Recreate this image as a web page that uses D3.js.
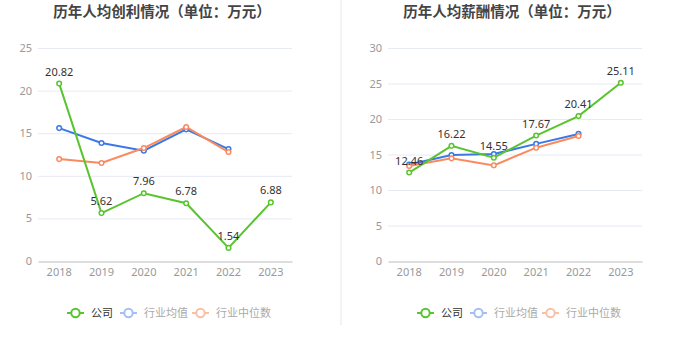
<!DOCTYPE html>
<html>
<head>
<meta charset="utf-8">
<script src="https://cdn.jsdelivr.net/npm/d3@7"></script>
<style>
  html, body { margin: 0; padding: 0; background: #fff; }
  svg { display: block; font-family: "Noto Sans CJK SC", "Noto Sans", sans-serif; }
</style>
</head>
<body>
<svg id="chart" width="680" height="349"></svg>
<script>
const years = ["2018", "2019", "2020", "2021", "2022", "2023"];
const seriesNames = ["公司", "行业均值", "行业中位数"];

// 人均创利
const profitCompany = [20.82, 5.62, 7.96, 6.78, 1.54, 6.88];
const profitMean = [15.6, 13.85, 12.94, 15.45, 13.14];
const profitMedian = [11.96, 11.5, 13.26, 15.73, 12.79];
const profitTicks = [0, 5, 10, 15, 20, 25];

// 人均薪酬
const salaryCompany = [12.46, 16.22, 14.55, 17.67, 20.41, 25.11];
const salaryMean = [13.6, 14.93, 15.07, 16.5, 17.9];
const salaryMedian = [13.38, 14.46, 13.47, 15.96, 17.6];
const salaryTicks = [0, 5, 10, 15, 20, 25, 30];

const colors = ["#5ac42e", "#3b78e7", "#fa8a5e"];
const legendColors = ["#5ac42e", "#a3bff3", "#fbbfa6"];
const legendText = ["#333", "#aaa", "#aaa"];

const svg = d3.select("#chart");

// divider between the two panels
svg.append("rect")
  .attr("x", 340).attr("y", 0)
  .attr("width", 2).attr("height", 325)
  .attr("fill", "#f3f3f3");

function drawPanel(offsetX, title, company, mean, median, ticks) {
  const left = offsetX + 38;
  const right = offsetX + 292;
  const top = 48;
  const bottom = 261;

  const g = svg.append("g");

  g.append("text")
    .attr("x", offsetX + 162)
    .attr("y", 17)
    .attr("text-anchor", "middle")
    .attr("font-size", 14.5)
    .attr("font-weight", "bold")
    .attr("fill", "#444")
    .text(title);

  const x = d3.scaleBand().domain(years).range([left, right]);
  const y = d3.scaleLinear().domain([0, d3.max(ticks)]).range([bottom, top]);

  // grid lines
  g.append("g")
    .selectAll("line")
    .data(ticks.filter(t => t > 0))
    .join("line")
    .attr("x1", left).attr("x2", right)
    .attr("y1", d => y(d) + 0.5).attr("y2", d => y(d) + 0.5)
    .attr("stroke", "#e6eaf5");

  const yAxis = g.append("g")
    .attr("transform", `translate(${left - 6},0)`)
    .call(d3.axisLeft(y).tickValues(ticks).tickSize(0).tickPadding(0));
  yAxis.select(".domain").remove();
  yAxis.selectAll("text")
    .attr("fill", "#999")
    .attr("font-size", 11)
    .attr("font-family", "'Noto Sans', sans-serif");

  const xAxis = g.append("g")
    .attr("transform", `translate(0,${bottom + 0.5})`)
    .call(d3.axisBottom(x).tickSize(0).tickPadding(7));
  xAxis.select(".domain").attr("stroke", "#bbb");
  xAxis.selectAll("text")
    .attr("fill", "#999")
    .attr("font-size", 11)
    .attr("font-family", "'Noto Sans', sans-serif");

  const cx = (d, i) => x(years[i]) + x.bandwidth() / 2;
  const line = d3.line().x(cx).y(d => y(d));

  [mean, median, company].forEach((data, k) => {
    const idx = k === 2 ? 0 : k + 1;
    g.append("path")
      .datum(data)
      .attr("d", line)
      .attr("fill", "none")
      .attr("stroke", colors[idx])
      .attr("stroke-width", 2);
    g.append("g")
      .selectAll("circle")
      .data(data)
      .join("circle")
      .attr("cx", cx)
      .attr("cy", d => y(d))
      .attr("r", 2.3)
      .attr("fill", "#fff")
      .attr("stroke", colors[idx])
      .attr("stroke-width", 1.5);
  });

  g.append("g")
    .selectAll("text")
    .data(company)
    .join("text")
    .attr("x", cx)
    .attr("y", d => y(d) - 8)
    .attr("text-anchor", "middle")
    .attr("font-size", 11)
    .attr("font-family", "'Noto Sans', sans-serif")
    .attr("fill", "#333")
    .text(d => d.toFixed(2));

  // legend
  const legendX = [offsetX + 67, offsetX + 120, offsetX + 192];
  const leg = g.append("g").selectAll("g")
    .data(seriesNames)
    .join("g")
    .attr("transform", (d, i) => `translate(${legendX[i]},313)`);
  leg.append("line")
    .attr("x1", 0).attr("x2", 17)
    .attr("stroke", (d, i) => legendColors[i])
    .attr("stroke-width", 2);
  leg.append("circle")
    .attr("cx", 8.5).attr("r", 4.2)
    .attr("fill", "#fff")
    .attr("stroke", (d, i) => legendColors[i])
    .attr("stroke-width", 2);
  leg.append("text")
    .attr("x", 24)
    .attr("dy", "0.35em")
    .attr("font-size", 11)
    .attr("fill", (d, i) => legendText[i])
    .text(d => d);
}

drawPanel(0, "历年人均创利情况（单位：万元）", profitCompany, profitMean, profitMedian, profitTicks);
drawPanel(350, "历年人均薪酬情况（单位：万元）", salaryCompany, salaryMean, salaryMedian, salaryTicks);
</script>
</body>
</html>
